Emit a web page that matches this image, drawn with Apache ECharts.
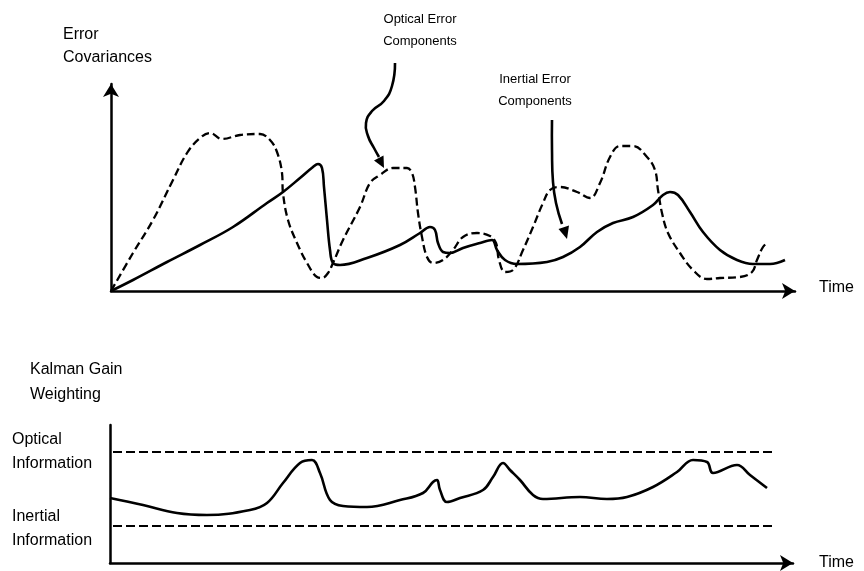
<!DOCTYPE html>
<html>
<head>
<meta charset="utf-8">
<script src="https://cdn.jsdelivr.net/npm/echarts@6/dist/echarts.min.js"></script>
<style>
html,body{margin:0;padding:0;background:#fff;}
#chart{width:864px;height:571px;}
</style>
</head>
<body>
<div id="chart"></div>
<script>
// ---- Top panel: error covariances (time units, covariance units) ----
var opticalErrT = [0,22,42,62,76,89,99,111,129,149,159,166,171,172,177,186,196,206,211,217,222,232,249,259,269,282,296,301,304,307,311,316,322,332,342,352,366,379,385,388,394,402,412,422,432,439,449,466,479,489,499,509,522,536,544,547,551,557,569,582,596,609,629,641,646,652,657];
var opticalErrV = [0,38,71,111,138,153,158,152,156,157,151,139,118,98,71,48,28,14,13,18,28,51,84,108,116,123,123,118,104,78,54,34,28,31,41,54,58,55,48,31,19,21,41,64,88,101,104,99,93,108,134,145,145,134,121,101,78,58,38,21,12,13,14,19,31,44,49];
var inertialErrT = [0,22,56,89,122,156,172,189,202,207,211,213,216,219,222,229,256,289,309,319,324,327,332,339,352,369,381,386,394,406,436,452,469,486,502,522,542,552,559,567,579,592,609,626,642,659,674];
var inertialErrV = [0,11,29,46,64,88,99,113,124,127,123,104,71,41,28,26,33,46,58,64,61,48,39,38,43,48,51,41,31,27,29,34,44,59,68,74,86,96,99,96,79,59,41,31,27,27,31];

// ---- Bottom panel: Kalman gain weighting ----
var gainT = [0,33,67,97,140,157,173,190,202,210,220,233,257,290,313,323,327,330,337,350,373,383,393,400,410,423,433,470,497,517,543,567,583,597,603,627,640,657];
var gainV = [65,58,50,48,53,60,80,100,103,90,63,57,56,63,70,81,83,73,61,65,73,86,100,93,83,68,64,66,64,66,76,91,103,101,90,98,88,75];
var opticalLevelT = [3,663];
var opticalLevelV = [111,111];
var inertialLevelT = [3,663];
var inertialLevelV = [37,37];

function pairs(xs, ys){ return xs.map(function(x,i){ return [x, ys[i]]; }); }

var chart = echarts.init(document.getElementById('chart'));
var FONT = '"Liberation Sans", Arial, sans-serif';
var axisLineArrow = {show:true, symbol:['none','arrow'], symbolSize:[12,13], lineStyle:{color:'#000', width:2.5}};

function txt(x, y, s, size, align){
  return {type:'text', left:undefined, x:x, y:y, style:{text:s, fill:'#000', font:'normal ' + size + 'px ' + FONT, textAlign:align||'left', textVerticalAlign:'middle'}};
}

chart.setOption({
  backgroundColor:'#fff',
  animation:false,
  grid:[
    {left:111, right:69, top:84, bottom:280},
    {left:110, right:71, top:425, bottom:8}
  ],
  xAxis:[
    {type:'value', gridIndex:0, min:0, max:684, axisLine:axisLineArrow, axisTick:{show:false}, axisLabel:{show:false}, splitLine:{show:false}},
    {type:'value', gridIndex:1, min:0, max:683, axisLine:axisLineArrow, axisTick:{show:false}, axisLabel:{show:false}, splitLine:{show:false}}
  ],
  yAxis:[
    {type:'value', gridIndex:0, min:0, max:207, axisLine:axisLineArrow, axisTick:{show:false}, axisLabel:{show:false}, splitLine:{show:false}},
    {type:'value', gridIndex:1, min:0, max:138, axisLine:{show:true, lineStyle:{color:'#000', width:2.5}}, axisTick:{show:false}, axisLabel:{show:false}, splitLine:{show:false}}
  ],
  series:[
    {name:'Optical Error Components', type:'line', xAxisIndex:0, yAxisIndex:0, data:pairs(opticalErrT, opticalErrV), smooth:0.4, showSymbol:false,
      lineStyle:{color:'#000', width:2.3, type:[8,4]}},
    {name:'Inertial Error Components', type:'line', xAxisIndex:0, yAxisIndex:0, data:pairs(inertialErrT, inertialErrV), smooth:0.4, showSymbol:false,
      lineStyle:{color:'#000', width:2.6}},
    {name:'Optical Information', type:'line', xAxisIndex:1, yAxisIndex:1, data:pairs(opticalLevelT, opticalLevelV), showSymbol:false,
      lineStyle:{color:'#000', width:2.2, type:[9,4]}},
    {name:'Inertial Information', type:'line', xAxisIndex:1, yAxisIndex:1, data:pairs(inertialLevelT, inertialLevelV), showSymbol:false,
      lineStyle:{color:'#000', width:2.2, type:[9,4]}},
    {name:'Kalman Gain', type:'line', xAxisIndex:1, yAxisIndex:1, data:pairs(gainT, gainV), smooth:0.4, showSymbol:false,
      lineStyle:{color:'#000', width:2.6}}
  ],
  graphic:[
    txt(63, 35, 'Error', 16),
    txt(63, 58, 'Covariances', 16),
    txt(420, 19, 'Optical Error', 13, 'center'),
    txt(420, 41, 'Components', 13, 'center'),
    txt(535, 79, 'Inertial Error', 13, 'center'),
    txt(535, 101, 'Components', 13, 'center'),
    txt(819, 288, 'Time', 16),
    txt(819, 563, 'Time', 16),
    txt(30, 370, 'Kalman Gain', 16),
    txt(30, 395, 'Weighting', 16),
    txt(12, 440, 'Optical', 16),
    txt(12, 464, 'Information', 16),
    txt(12, 517, 'Inertial', 16),
    txt(12, 541, 'Information', 16),
    {type:'polyline', shape:{points:[[395,63],[392,86],[384,101],[372,111],[366,123],[368,136],[374,148],[379,157]], smooth:0.5},
      style:{stroke:'#000', lineWidth:2.6, fill:null}},
    {type:'polygon', shape:{points:[[384,168],[383.5,155.5],[374,160.5]]}, style:{fill:'#000'}},
    {type:'polyline', shape:{points:[[552,120],[552,150],[553,182],[556,203],[562,224]], smooth:0.5},
      style:{stroke:'#000', lineWidth:2.6, fill:null}},
    {type:'polygon', shape:{points:[[567,239],[569,225.5],[558.5,229]]}, style:{fill:'#000'}}
  ]
});
</script>
</body>
</html>
